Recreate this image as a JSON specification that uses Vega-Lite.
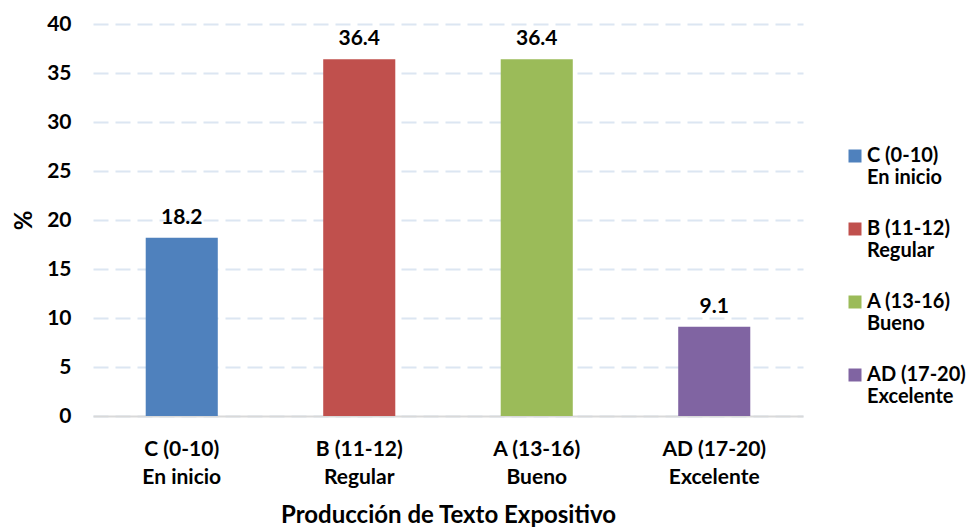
{
  "$schema": "https://vega.github.io/schema/vega-lite/v6.json",
  "width": 710,
  "height": 392,
  "autosize": "none",
  "padding": {"left": 93, "top": 24, "right": 167, "bottom": 111},
  "background": "white",
  "config": {
    "font": "Lato",
    "view": {"stroke": null}
  },
  "data": {
    "values": [
      {"nivel": "C (0-10)\nEn inicio", "pct": 18.2},
      {"nivel": "B (11-12)\nRegular", "pct": 36.4},
      {"nivel": "A (13-16)\nBueno", "pct": 36.4},
      {"nivel": "AD (17-20)\nExcelente", "pct": 9.1}
    ]
  },
  "encoding": {
    "x": {
      "field": "nivel",
      "type": "nominal",
      "sort": null,
      "scale": {"paddingInner": 0.594, "paddingOuter": 0.297},
      "axis": {
        "title": "Producción de Texto Expositivo",
        "titleFontSize": 24,
        "titleFontWeight": "bold",
        "titleColor": "#000000",
        "titlePadding": 16,
        "labelExpr": "split(datum.label, '\\n')",
        "labelAngle": 0,
        "labelFontSize": 21,
        "labelFontWeight": "bold",
        "labelColor": "#000000",
        "labelLineHeight": 28,
        "labelPadding": 22,
        "labelBaseline": "top",
        "ticks": false,
        "domainColor": "#d9d9d9",
        "domainWidth": 2,
        "grid": false
      }
    },
    "y": {
      "field": "pct",
      "type": "quantitative",
      "scale": {"domain": [0, 40]},
      "axis": {
        "title": "%",
        "titleFontSize": 24,
        "titleFontWeight": "bold",
        "titleColor": "#000000",
        "titlePadding": 10,
        "values": [0, 5, 10, 15, 20, 25, 30, 35, 40],
        "labelFontSize": 21,
        "labelFontWeight": "bold",
        "labelColor": "#000000",
        "labelPadding": 22,
        "ticks": false,
        "domain": false,
        "grid": true,
        "gridColor": "#dce6f2",
        "gridWidth": 2,
        "gridDash": [15, 7]
      }
    }
  },
  "layer": [
    {
      "mark": {"type": "bar"},
      "encoding": {
        "color": {
          "field": "nivel",
          "type": "nominal",
          "sort": null,
          "scale": {"range": ["#4f81bd", "#c0504d", "#9bbb59", "#8064a2"]},
          "legend": {
            "title": null,
            "orient": "none",
            "legendX": 752,
            "legendY": 122,
            "labelExpr": "split(datum.label, '\\n')",
            "labelFontSize": 20,
            "labelFontWeight": "bold",
            "labelColor": "#000000",
            "labelLineHeight": 28,
            "labelLimit": 300,
            "symbolType": "square",
            "symbolSize": 169,
            "symbolStrokeWidth": 0,
            "rowPadding": 31,
            "labelOffset": 2
          }
        }
      }
    },
    {
      "mark": {"type": "text", "baseline": "bottom", "dy": -10, "fontSize": 21, "fontWeight": "bold", "color": "#000000"},
      "encoding": {
        "text": {"field": "pct", "type": "quantitative", "format": ".1f"}
      }
    }
  ]
}
